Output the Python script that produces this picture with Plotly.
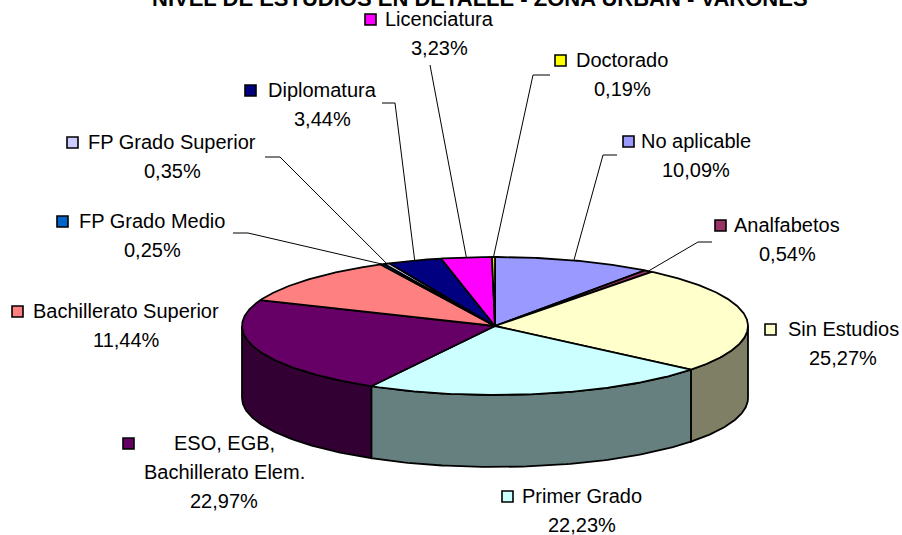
import numpy as np
import plotly.graph_objects as go

# Datos (orden horario desde las 12)
categorias = ["No aplicable", "Analfabetos", "Sin Estudios", "Primer Grado",
              "ESO, EGB, Bachillerato Elem.", "Bachillerato Superior",
              "FP Grado Medio", "FP Grado Superior", "Diplomatura",
              "Licenciatura", "Doctorado"]
porcentajes = [10.09, 0.54, 25.27, 22.23, 22.97, 11.44, 0.25, 0.35, 3.44, 3.23, 0.19]
colores = ["#9999FF", "#993366", "#FFFFCC", "#CCFFFF", "#660066", "#FF8080",
           "#0066CC", "#CCCCFF", "#000080", "#FF00FF", "#FFFF00"]
titulo = "NIVEL DE ESTUDIOS EN DETALLE - ZONA URBAN - VARONES"

# Geometría de la tarta 3D (píxeles)
CX, CY, RX, RY, ALTO = 495, 326, 253, 69, 72
W, H = 902, 535
FUENTE = "Liberation Sans, Arial, sans-serif"

# Posición de las etiquetas: centro del texto, primera línea, borde izq. de la llave
etiquetas = {
    "No aplicable": dict(x=696, y=141, llave=623),
    "Analfabetos": dict(x=787, y=225, llave=715),
    "Sin Estudios": dict(x=843, y=329, llave=765),
    "Primer Grado": dict(x=582, y=496, llave=502),
    "ESO, EGB, Bachillerato Elem.": dict(x=224, y=443, llave=123),
    "Bachillerato Superior": dict(x=126, y=311, llave=12),
    "FP Grado Medio": dict(x=152, y=221, llave=57),
    "FP Grado Superior": dict(x=172, y=142, llave=67),
    "Diplomatura": dict(x=322, y=90, llave=245),
    "Licenciatura": dict(x=439, y=19, llave=365),
    "Doctorado": dict(x=622, y=60, llave=555),
}
saltos = {"ESO, EGB, Bachillerato Elem.": ["ESO, EGB,", "Bachillerato Elem."]}
# Líneas guía: puntos del lado de la etiqueta (el extremo en la porción se calcula)
guias = {
    "No aplicable": [(617, 155), (603, 155)],
    "Analfabetos": [(712, 242), (698, 242)],
    "FP Grado Medio": [(233, 233), (248, 233)],
    "FP Grado Superior": [(265, 157), (280, 157)],
    "Diplomatura": [(382, 103), (395, 103)],
    "Licenciatura": [(430, 65)],
    "Doctorado": [(550, 75), (533, 75)],
}
INTERLINEA = 29


def punto(theta, dy=0.0):
    t = np.radians(theta)
    return CX + RX * np.sin(t), CY - RY * np.cos(t) + dy


def oscurecer(hexcol):
    r, g, b = (int(hexcol[i:i + 2], 16) // 2 for i in (1, 3, 5))
    return f"#{r:02X}{g:02X}{b:02X}"


acum = np.concatenate([[0], np.cumsum(porcentajes)]) * 3.6
fig = go.Figure()

# Caras laterales (solo la mitad delantera, 90°-270°)
for i, col in enumerate(colores):
    lo, hi = max(acum[i], 90), min(acum[i + 1], 270)
    if lo >= hi:
        continue
    ts = np.linspace(lo, hi, 80)
    xt, yt = punto(ts)
    xb, yb = punto(ts[::-1], ALTO)
    fig.add_trace(go.Scatter(
        x=np.concatenate([xt, xb, xt[:1]]), y=np.concatenate([yt, yb, yt[:1]]),
        mode="lines", fill="toself", fillcolor=oscurecer(col),
        line=dict(color="black", width=1.8), hoverinfo="skip"))

# Caras superiores
for i, col in enumerate(colores):
    ts = np.linspace(acum[i], acum[i + 1], max(4, int((acum[i + 1] - acum[i]) * 2)))
    xa, ya = punto(ts)
    fig.add_trace(go.Scatter(
        x=np.concatenate([[CX], xa, [CX]]), y=np.concatenate([[CY], ya, [CY]]),
        mode="lines", fill="toself", fillcolor=col,
        line=dict(color="black", width=1.8), hoverinfo="skip"))

# Líneas guía
for i, cat in enumerate(categorias):
    if cat not in guias:
        continue
    xm, ym = punto((acum[i] + acum[i + 1]) / 2)
    pts = guias[cat] + [(xm, ym)]
    fig.add_trace(go.Scatter(
        x=[p[0] for p in pts], y=[p[1] for p in pts], mode="lines",
        line=dict(color="black", width=1), hoverinfo="skip"))

# Etiquetas con llave de leyenda
anotaciones = []
formas = []
for cat, val, col in zip(categorias, porcentajes, colores):
    e = etiquetas[cat]
    lineas = saltos.get(cat, [cat]) + [f"{val:.2f}".replace(".", ",") + "%"]
    for k, txt in enumerate(lineas):
        anotaciones.append(dict(
            x=e["x"], y=e["y"] + k * INTERLINEA, xref="x", yref="y", text=txt,
            showarrow=False, xanchor="center", yanchor="middle",
            font=dict(family=FUENTE, size=20, color="black")))
    formas.append(dict(
        type="rect", xref="x", yref="y", x0=e["llave"], x1=e["llave"] + 11,
        y0=e["y"] - 5, y1=e["y"] + 6, fillcolor=col,
        line=dict(color="black", width=1.6)))

anotaciones.append(dict(
    x=0.532, y=1, xref="paper", yref="paper", text=f"<b>{titulo}</b>",
    showarrow=False, xanchor="center", yanchor="middle", yshift=2,
    font=dict(family=FUENTE, size=22, color="black")))

fig.update_layout(
    width=W, height=H, margin=dict(l=0, r=0, t=0, b=0),
    paper_bgcolor="white", plot_bgcolor="white", showlegend=False,
    xaxis=dict(range=[0, W], visible=False, fixedrange=True),
    yaxis=dict(range=[H, 0], visible=False, fixedrange=True),
    annotations=anotaciones, shapes=formas,
)
fig.write_html("out.html", config={"displayModeBar": False},
               post_script="document.body.style.margin='0';")
